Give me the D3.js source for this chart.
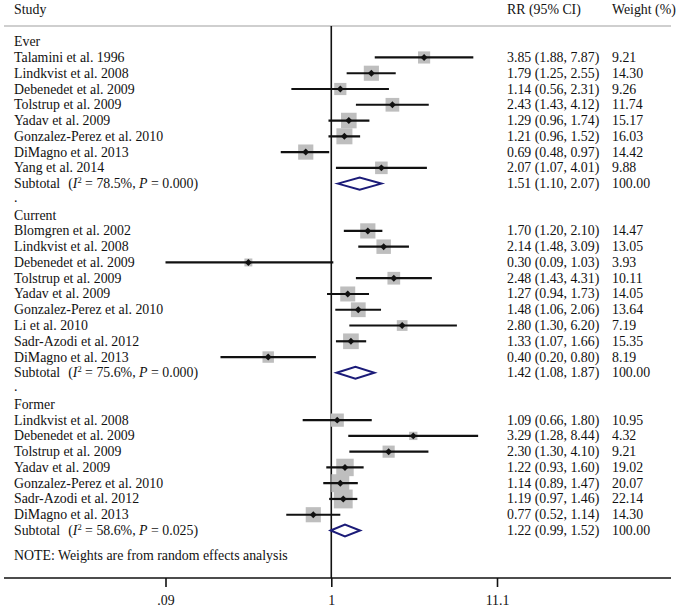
<!DOCTYPE html>
<html>
<head>
<meta charset="utf-8">
<script src="https://cdn.jsdelivr.net/npm/d3@7"></script>
<style>
  body { margin: 0; background: #fff; }
  text { font-family: "Liberation Serif", "Times New Roman", serif; font-size: 13.85px; fill: #111; }
</style>
</head>
<body>
<script>
// name, RR, lower CI, upper CI, weight (%)
const everRows = [
  ["Talamini et al. 1996", 3.85, 1.88, 7.87, 9.21],
  ["Lindkvist et al. 2008", 1.79, 1.25, 2.55, 14.30],
  ["Debenedet et al. 2009", 1.14, 0.56, 2.31, 9.26],
  ["Tolstrup et al. 2009", 2.43, 1.43, 4.12, 11.74],
  ["Yadav et al. 2009", 1.29, 0.96, 1.74, 15.17],
  ["Gonzalez-Perez et al. 2010", 1.21, 0.96, 1.52, 16.03],
  ["DiMagno et al. 2013", 0.69, 0.48, 0.97, 14.42],
  ["Yang et al. 2014", 2.07, 1.07, 4.01, 9.88]
]
const currentRows = [
  ["Blomgren et al. 2002", 1.70, 1.20, 2.10, 14.47],
  ["Lindkvist et al. 2008", 2.14, 1.48, 3.09, 13.05],
  ["Debenedet et al. 2009", 0.30, 0.09, 1.03, 3.93],
  ["Tolstrup et al. 2009", 2.48, 1.43, 4.31, 10.11],
  ["Yadav et al. 2009", 1.27, 0.94, 1.73, 14.05],
  ["Gonzalez-Perez et al. 2010", 1.48, 1.06, 2.06, 13.64],
  ["Li et al. 2010", 2.80, 1.30, 6.20, 7.19],
  ["Sadr-Azodi et al. 2012", 1.33, 1.07, 1.66, 15.35],
  ["DiMagno et al. 2013", 0.40, 0.20, 0.80, 8.19]
]
const formerRows = [
  ["Lindkvist et al. 2008", 1.09, 0.66, 1.80, 10.95],
  ["Debenedet et al. 2009", 3.29, 1.28, 8.44, 4.32],
  ["Tolstrup et al. 2009", 2.30, 1.30, 4.10, 9.21],
  ["Yadav et al. 2009", 1.22, 0.93, 1.60, 19.02],
  ["Gonzalez-Perez et al. 2010", 1.14, 0.89, 1.47, 20.07],
  ["Sadr-Azodi et al. 2012", 1.19, 0.97, 1.46, 22.14],
  ["DiMagno et al. 2013", 0.77, 0.52, 1.14, 14.30]
]
const groupNames = ["Ever", "Current", "Former"]
// RR, lower, upper, I2 (%), P
const subtotals = [
  [1.51, 1.10, 2.07, "78.5", "0.000"],
  [1.42, 1.08, 1.87, "75.6", "0.000"],
  [1.22, 0.99, 1.52, "58.6", "0.025"]
]
const tickValues = [0.09, 1, 11.1]
const tickLabels = [".09", "1", "11.1"]
const noteText = "NOTE: Weights are from random effects analysis"

//------------------------------------------------------------------------------

const width = 680
const height = 610

const svg = d3.select("body")
    .append("svg")
    .attr("width", width)
    .attr("height", height)

// build the list of rows
let rows = []
const groupRows = [everRows, currentRows, formerRows]
groupNames.forEach((g, gi) => {
    rows.push({ type: "head", label: g })
    groupRows[gi].forEach(r => {
        rows.push({ type: "study", label: r[0], rr: r[1], lo: r[2], hi: r[3], w: r[4] })
    })
    const s = subtotals[gi]
    rows.push({ type: "sub", rr: s[0], lo: s[1], hi: s[2], i2: s[3], p: s[4], w: 100 })
    if (gi < groupNames.length - 1) rows.push({ type: "dot", label: "." })
})

let x = d3.scaleLog()
    .domain([0.09, 11.1])
    .range([165.5, 497])

let y = d3.scaleLinear()
    .domain([0, 31])
    .range([41.7, 530.5])

let side = d3.scaleSqrt()
    .domain([0, 100])
    .range([0, 40])

const axisY = 578
const textX = 14
const rrX = 507
const wX = 612

//------------------------------------------------------------------------------

// header
svg.append("text").attr("x", textX).attr("y", 14).text("Study")
svg.append("text").attr("x", rrX).attr("y", 14).text("RR (95% CI)")
svg.append("text").attr("x", wX).attr("y", 14).text("Weight (%)")

svg.append("line")
    .attr("x1", 4).attr("x2", 671)
    .attr("y1", 26).attr("y2", 26)
    .attr("stroke", "#a0a0a0").attr("stroke-width", 1.2)

// null line
svg.append("line")
    .attr("x1", x(1)).attr("x2", x(1))
    .attr("y1", 26).attr("y2", axisY)
    .attr("stroke", "#111").attr("stroke-width", 1.6)

// axis
svg.append("line")
    .attr("x1", 4).attr("x2", 671)
    .attr("y1", axisY).attr("y2", axisY)
    .attr("stroke", "#111").attr("stroke-width", 1.6)

const axis = svg.append("g")
    .attr("transform", "translate(0," + axisY + ")")
    .call(d3.axisBottom(x)
        .tickValues(tickValues)
        .tickFormat((d, i) => tickLabels[i])
        .tickSize(9)
        .tickPadding(8))
axis.select(".domain").remove()
axis.selectAll(".tick line").attr("stroke", "#111").attr("stroke-width", 1.6)
axis.selectAll(".tick text")
    .style("font-family", "'Liberation Serif', serif")
    .style("font-size", "13.85px")
    .attr("fill", "#111")

//------------------------------------------------------------------------------

const g = svg.append("g")

rows.forEach((r, i) => {
    const cy = y(i)
    const base = cy + 4.5

    if (r.type === "head" || r.type === "dot") {
        g.append("text").attr("x", textX).attr("y", base - (r.type === "dot" ? 2 : 0)).text(r.label)
        return
    }

    const ci = r.rr.toFixed(2) + " (" + r.lo.toFixed(2) + ", " + r.hi.toFixed(2) + ")"
    g.append("text").attr("x", rrX).attr("y", base).text(ci)
    g.append("text").attr("x", wX).attr("y", base).text(r.w.toFixed(2))

    if (r.type === "study") {
        g.append("text").attr("x", textX).attr("y", base).text(r.label)
        const s = side(r.w)
        g.append("rect")
            .attr("x", x(r.rr) - s / 2)
            .attr("y", cy - s / 2)
            .attr("width", s)
            .attr("height", s)
            .attr("fill", "#bebebe")
        g.append("line")
            .attr("x1", x(r.lo)).attr("x2", x(r.hi))
            .attr("y1", cy).attr("y2", cy)
            .attr("stroke", "#111").attr("stroke-width", 2.2)
        g.append("path")
            .attr("d", d3.symbol(d3.symbolSquare, 24)())
            .attr("transform", "translate(" + x(r.rr) + "," + cy + ") rotate(45)")
            .attr("fill", "#111")
    } else {
        const t = g.append("text").attr("x", textX).attr("y", base)
        t.append("tspan").text("Subtotal")
        t.append("tspan").attr("dx", 8).text("(")
        t.append("tspan").style("font-style", "italic").text("I")
        t.append("tspan").attr("dy", -5).style("font-size", "8.5px").text("2")
        t.append("tspan").attr("dy", 5).text(" = " + r.i2 + "%, ")
        t.append("tspan").style("font-style", "italic").text("P")
        t.append("tspan").text(" = " + r.p + ")")

        const hh = 6
        g.append("path")
            .attr("d", d3.line()([
                [x(r.lo), cy], [x(r.rr), cy - hh], [x(r.hi), cy], [x(r.rr), cy + hh]
            ]) + "Z")
            .attr("fill", "#fff")
            .attr("stroke", "#1b1b78")
            .attr("stroke-width", 2)
    }
})

svg.append("text").attr("x", textX).attr("y", 560).text(noteText)
</script>
</body>
</html>
